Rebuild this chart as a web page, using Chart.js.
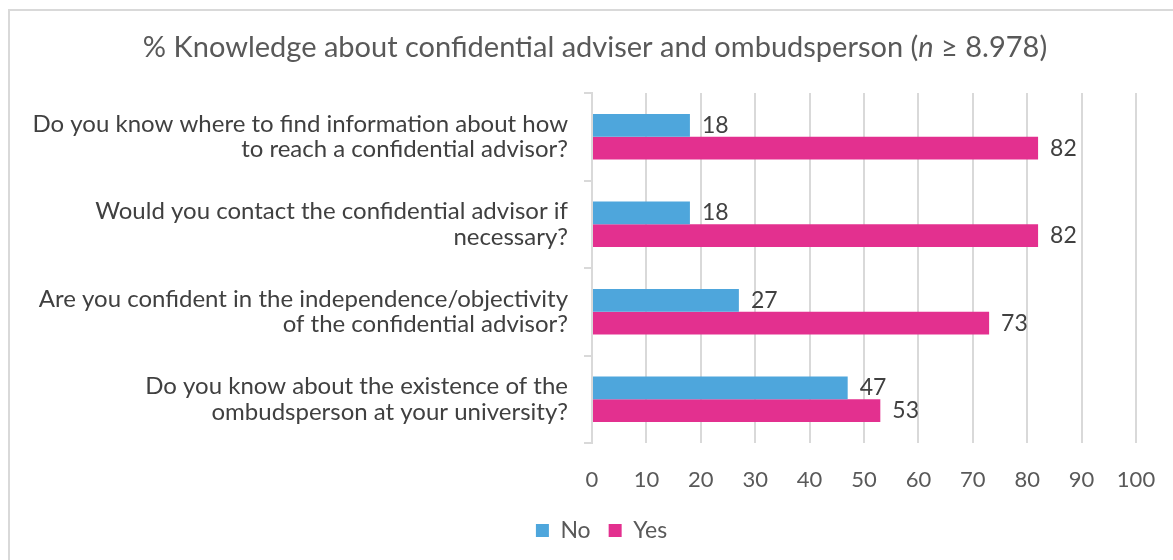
<!DOCTYPE html>
<html>
<head>
<meta charset="utf-8">
<script src="https://cdn.jsdelivr.net/npm/chart.js@4/dist/chart.umd.min.js"></script>
<style>
  html, body { margin: 0; padding: 0; background: #fff; overflow: hidden; }
  #frame {
    position: absolute; left: 8px; top: 9px;
    width: 1185px; height: 560px;
    border-left: 2px solid #d9d9d9; border-top: 2px solid #d9d9d9;
    box-sizing: border-box;
  }
  #frame canvas { display: block; }
</style>
</head>
<body>
<div id="frame"><canvas id="chart"></canvas></div>
<script>
// Survey questions (categories), shown top to bottom
const questions = [
  ["Do you know where to find information about how", "to reach a confidential advisor?"],
  ["Would you contact the confidential advisor if", "necessary?"],
  ["Are you confident in the independence/objectivity", "of the confidential advisor?"],
  ["Do you know about the existence of the", "ombudsperson at your university?"]
];
// Share of respondents (%)
const noValues  = [18, 18, 27, 47];
const yesValues = [82, 82, 73, 53];
const seriesNames = ["No", "Yes"];
const titleParts = [
  { text: "% Knowledge about confidential adviser and ombudsperson (", italic: false },
  { text: "n", italic: true },
  { text: " \u2265 8.978)", italic: false }
];

const FONT = "Lato, 'Open Sans', sans-serif";
const BLUE = "#4EA6DC";
const PINK = "#E3308F";

// Title drawn by hand so the sample size symbol can be italic
const titlePlugin = {
  id: "mixedTitle",
  afterDraw(chart) {
    const ctx = chart.ctx;
    ctx.save();
    ctx.fillStyle = "#595959";
    ctx.textBaseline = "middle";
    const size = 29;
    const fontOf = p => (p.italic ? "italic " : "") + size + "px " + FONT;
    let total = 0;
    titleParts.forEach(p => { ctx.font = fontOf(p); total += ctx.measureText(p.text).width; });
    let x = 585 - total / 2;
    titleParts.forEach(p => {
      ctx.font = fontOf(p);
      ctx.fillText(p.text, x, 37);
      x += ctx.measureText(p.text).width;
    });
    ctx.restore();
  }
};

// Center the legend on the whole canvas rather than the padded layout box
const legendCenter = {
  id: "legendCenter",
  afterLayout(chart) {
    const lg = chart.legend;
    if (!lg) return;
    lg.left = 0;
    lg.right = chart.width;
    lg.width = chart.width;
  }
};

// Value labels at the end of each bar
const valueLabels = {
  id: "valueLabels",
  afterDatasetsDraw(chart) {
    const ctx = chart.ctx;
    ctx.save();
    ctx.fillStyle = "#404040";
    ctx.font = "23px " + FONT;
    ctx.textBaseline = "middle";
    ctx.textAlign = "left";
    chart.data.datasets.forEach((ds, i) => {
      chart.getDatasetMeta(i).data.forEach((bar, j) => {
        ctx.fillText(String(ds.data[j]), bar.x + 12, bar.y);
      });
    });
    ctx.restore();
  }
};

new Chart(document.getElementById("chart"), {
  type: "bar",
  data: {
    labels: questions,
    datasets: [
      { label: seriesNames[0], data: noValues,  backgroundColor: BLUE },
      { label: seriesNames[1], data: yesValues, backgroundColor: PINK }
    ]
  },
  options: {
    indexAxis: "y",
    responsive: true,
    maintainAspectRatio: false,
    animation: false,
    categoryPercentage: 0.52,
    barPercentage: 1.0,
    layout: { padding: { top: 82, right: 57, bottom: 17, left: 0 } },
    scales: {
      x: {
        min: 0, max: 100,
        ticks: { stepSize: 10, color: "#595959", font: { family: FONT, size: 22 }, padding: 24 },
        grid: { color: "#d9d9d9", lineWidth: 2, drawTicks: false },
        border: { display: false },
        afterFit(scale) { scale.height = 58; }
      },
      y: {
        ticks: { color: "#404040", font: { family: FONT, size: 24, lineHeight: 1.08 }, padding: 16 },
        grid: { color: "#d9d9d9", lineWidth: 2, drawOnChartArea: false, drawTicks: true, tickLength: 8, offset: true },
        border: { display: true, color: "#d9d9d9", width: 2 },
        afterFit(scale) { scale.width = 582; }
      }
    },
    plugins: {
      title: { display: false },
      tooltip: { enabled: false },
      legend: {
        position: "bottom",
        labels: {
          boxWidth: 13, boxHeight: 13, padding: 18,
          color: "#595959",
          font: { family: FONT, size: 23 }
        }
      }
    }
  },
  plugins: [titlePlugin, valueLabels, legendCenter]
});
</script>
</body>
</html>
